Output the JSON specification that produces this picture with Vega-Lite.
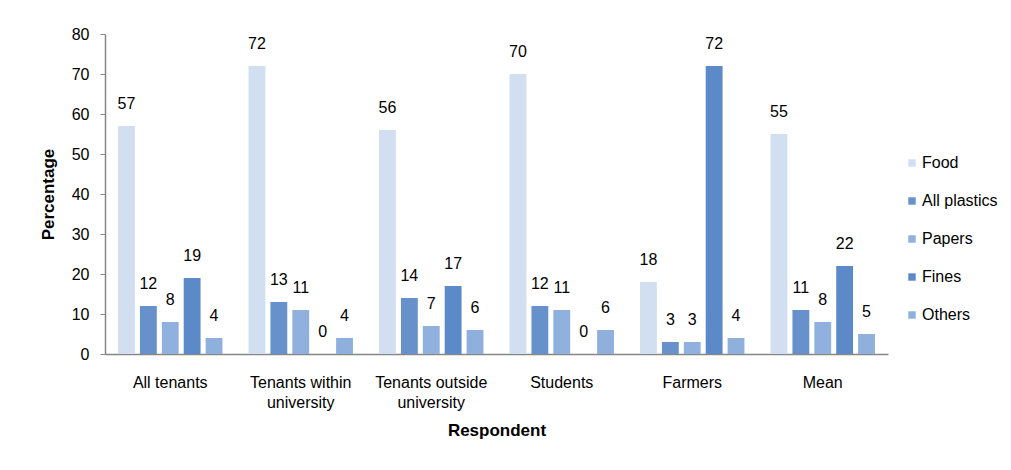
{
  "$schema": "https://vega.github.io/schema/vega-lite/v6.json",
  "autosize": "none",
  "width": 783,
  "height": 320,
  "padding": {"left": 105, "top": 34, "right": 123, "bottom": 116},
  "background": "white",
  "config": {
    "view": {"stroke": null},
    "font": "Liberation Sans",
    "axis": {"labelFont": "Liberation Sans", "titleFont": "Liberation Sans", "labelColor": "#000000", "titleColor": "#000000"}
  },
  "data": {
    "values": [
      {"respondent": "All tenants", "type": "Food", "value": 57},
      {"respondent": "All tenants", "type": "All plastics", "value": 12},
      {"respondent": "All tenants", "type": "Papers", "value": 8},
      {"respondent": "All tenants", "type": "Fines", "value": 19},
      {"respondent": "All tenants", "type": "Others", "value": 4},
      {"respondent": "Tenants within|university", "type": "Food", "value": 72},
      {"respondent": "Tenants within|university", "type": "All plastics", "value": 13},
      {"respondent": "Tenants within|university", "type": "Papers", "value": 11},
      {"respondent": "Tenants within|university", "type": "Fines", "value": 0},
      {"respondent": "Tenants within|university", "type": "Others", "value": 4},
      {"respondent": "Tenants outside|university", "type": "Food", "value": 56},
      {"respondent": "Tenants outside|university", "type": "All plastics", "value": 14},
      {"respondent": "Tenants outside|university", "type": "Papers", "value": 7},
      {"respondent": "Tenants outside|university", "type": "Fines", "value": 17},
      {"respondent": "Tenants outside|university", "type": "Others", "value": 6},
      {"respondent": "Students", "type": "Food", "value": 70},
      {"respondent": "Students", "type": "All plastics", "value": 12},
      {"respondent": "Students", "type": "Papers", "value": 11},
      {"respondent": "Students", "type": "Fines", "value": 0},
      {"respondent": "Students", "type": "Others", "value": 6},
      {"respondent": "Farmers", "type": "Food", "value": 18},
      {"respondent": "Farmers", "type": "All plastics", "value": 3},
      {"respondent": "Farmers", "type": "Papers", "value": 3},
      {"respondent": "Farmers", "type": "Fines", "value": 72},
      {"respondent": "Farmers", "type": "Others", "value": 4},
      {"respondent": "Mean", "type": "Food", "value": 55},
      {"respondent": "Mean", "type": "All plastics", "value": 11},
      {"respondent": "Mean", "type": "Papers", "value": 8},
      {"respondent": "Mean", "type": "Fines", "value": 22},
      {"respondent": "Mean", "type": "Others", "value": 5}
    ]
  },
  "encoding": {
    "x": {
      "field": "respondent",
      "type": "nominal",
      "sort": null,
      "scale": {"paddingInner": 0.2, "paddingOuter": 0.1},
      "axis": {
        "title": "Respondent",
        "titleFontSize": 17,
        "titleFontWeight": "bold",
        "titlePadding": 12,
        "labelAngle": 0,
        "labelFontSize": 16,
        "labelPadding": 20,
        "labelLineHeight": 20,
        "labelExpr": "split(datum.label, '|')",
        "ticks": false,
        "domainColor": "#868686",
        "domainWidth": 1.5
      }
    },
    "xOffset": {
      "field": "type",
      "type": "nominal",
      "sort": ["Food", "All plastics", "Papers", "Fines", "Others"],
      "scale": {"paddingInner": 0.23, "paddingOuter": 0}
    },
    "y": {
      "field": "value",
      "type": "quantitative",
      "scale": {"domain": [0, 80]},
      "axis": {
        "title": "Percentage",
        "titleFontSize": 17,
        "titleFontWeight": "bold",
        "titlePadding": 14,
        "values": [0, 10, 20, 30, 40, 50, 60, 70, 80],
        "labelFontSize": 16,
        "labelPadding": 11,
        "tickSize": 5,
        "tickColor": "#868686",
        "domainColor": "#868686",
        "domainWidth": 1.5,
        "grid": false
      }
    }
  },
  "layer": [
    {
      "mark": {"type": "bar"},
      "encoding": {
        "color": {
          "field": "type",
          "type": "nominal",
          "sort": ["Food", "All plastics", "Papers", "Fines", "Others"],
          "scale": {
            "domain": ["Food", "All plastics", "Papers", "Fines", "Others"],
            "range": ["#d2dff1", "#6691cb", "#90b1de", "#5c8ac8", "#8fb0dc"]
          },
          "legend": {
            "title": null,
            "orient": "none",
            "legendX": 799,
            "legendY": 121,
            "symbolType": "square",
            "symbolSize": 55,
            "labelFontSize": 16,
            "labelFont": "Liberation Sans",
            "labelColor": "#000000",
            "rowPadding": 22,
            "labelOffset": 2
          }
        }
      }
    },
    {
      "mark": {"type": "text", "fontSize": 16, "dy": -17, "baseline": "alphabetic", "color": "#000000", "font": "Liberation Sans"},
      "encoding": {
        "text": {"field": "value", "type": "quantitative"}
      }
    }
  ]
}
